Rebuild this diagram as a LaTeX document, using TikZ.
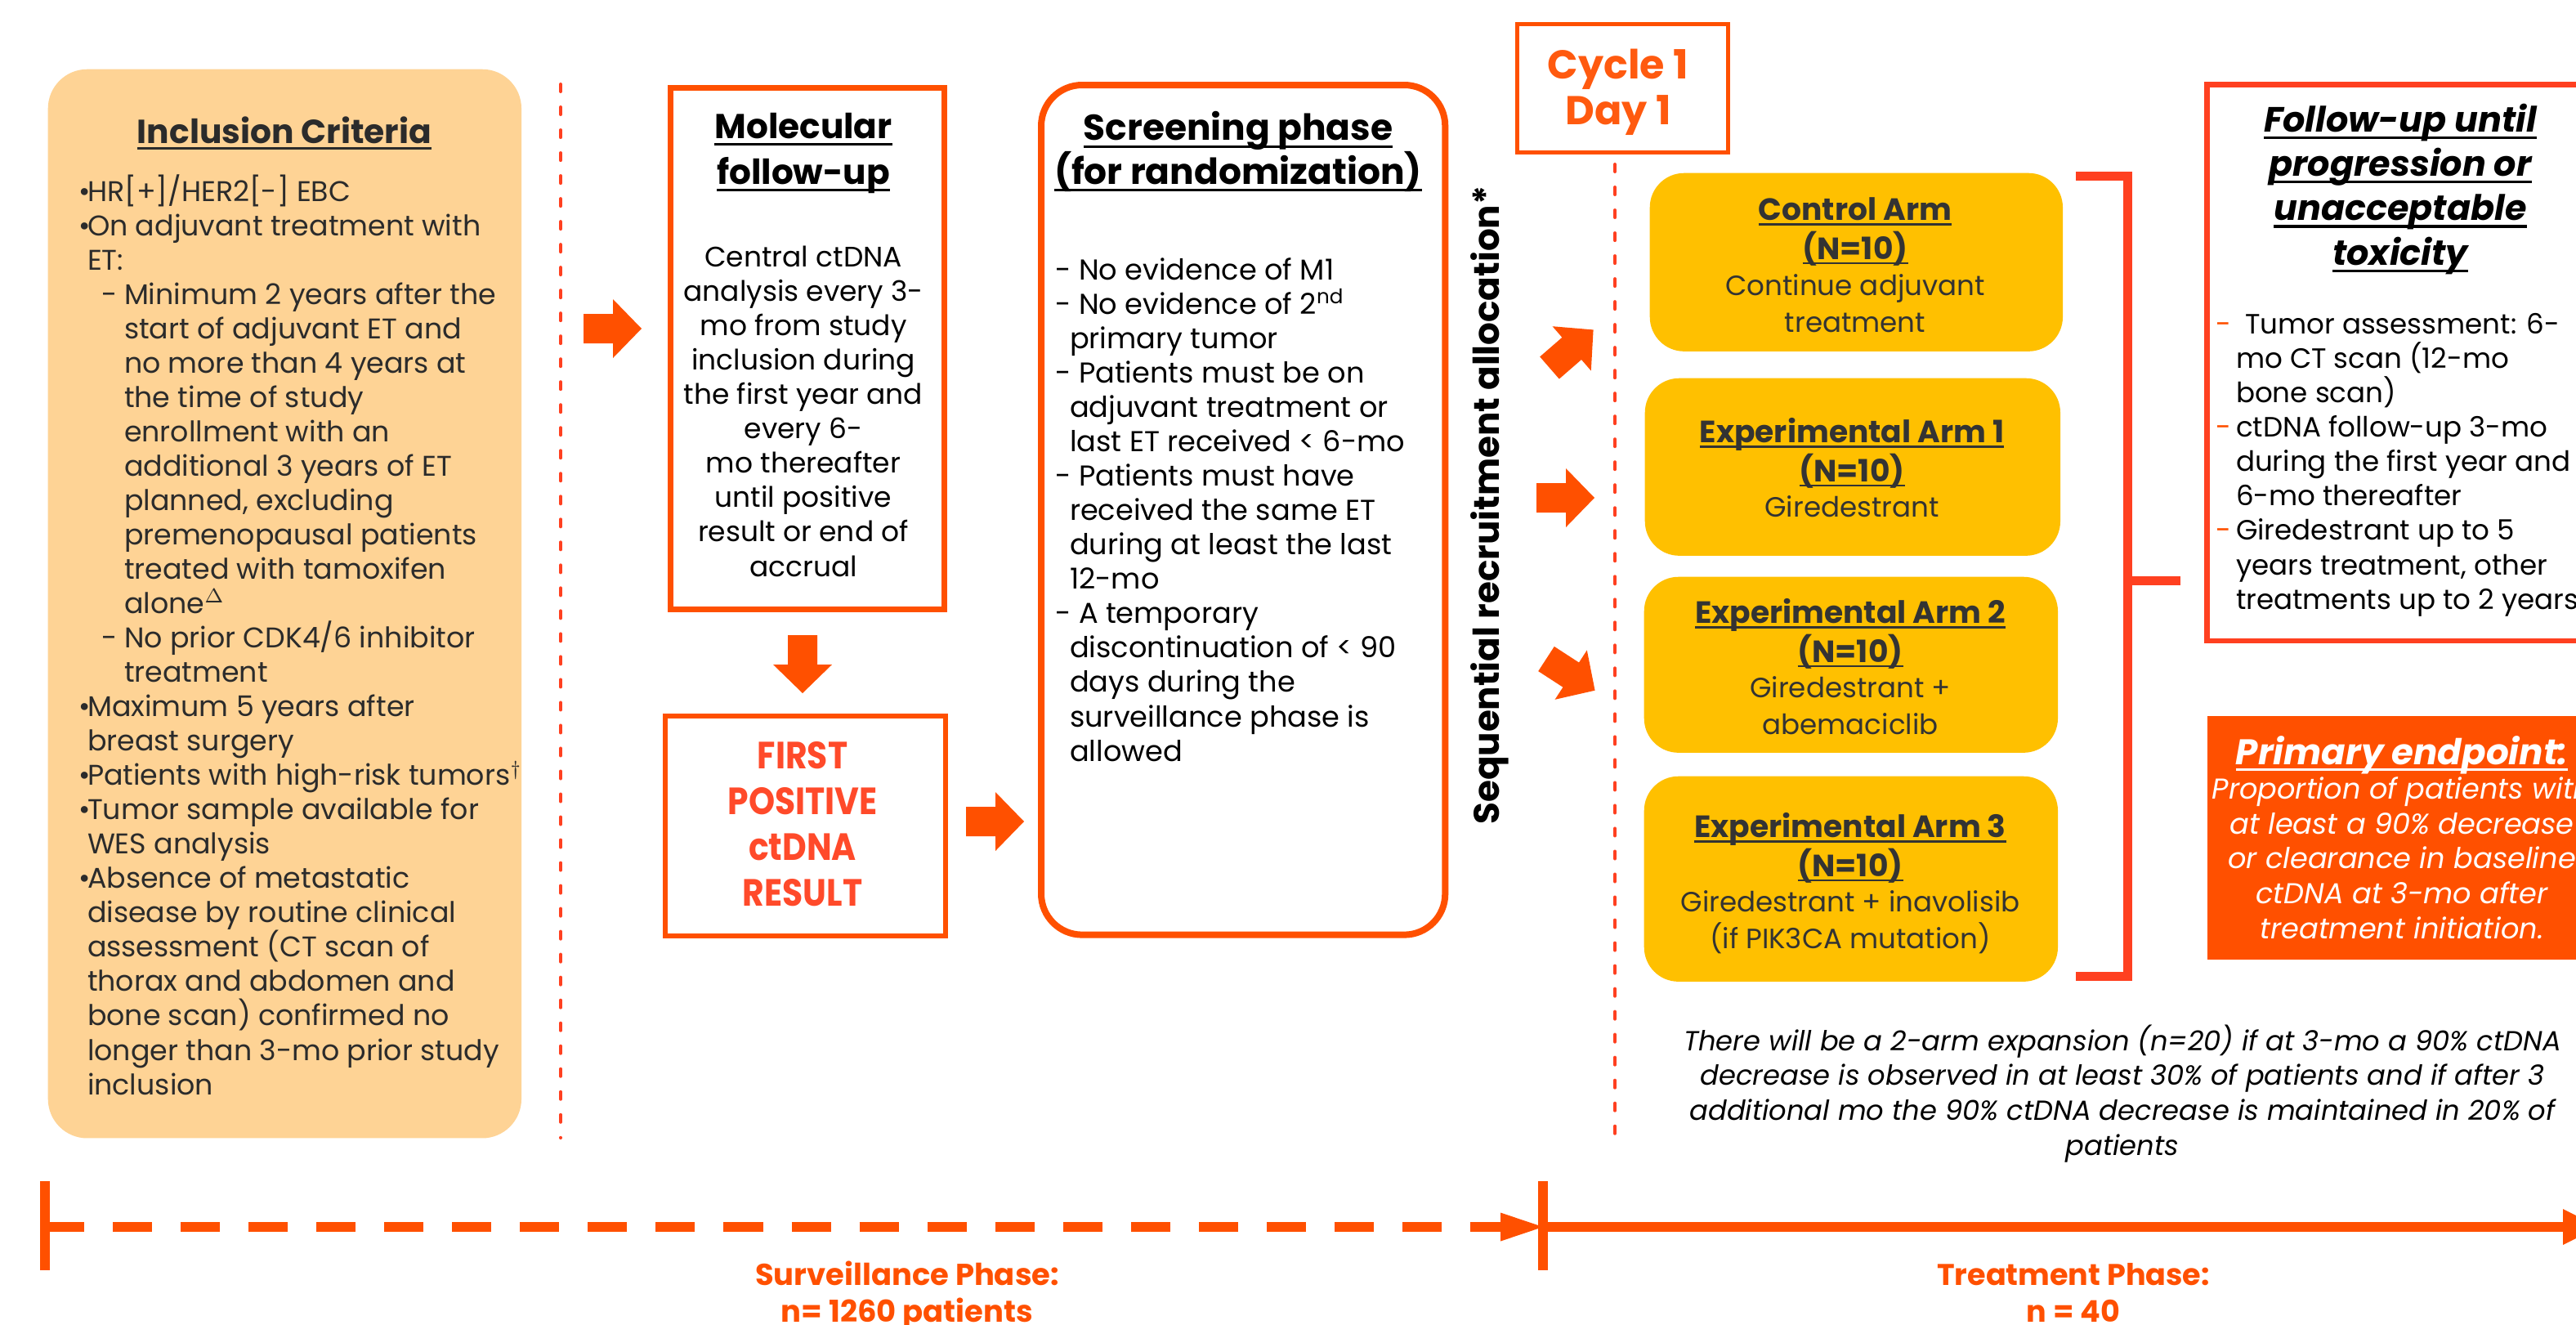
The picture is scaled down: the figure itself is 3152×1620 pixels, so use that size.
\documentclass[tikz,border=0pt]{standalone}
\usepackage{fontspec}
\setmainfont{Poppins}
\newfontfamily\narrowbold[FakeStretch=0.88]{Poppins}
\usetikzlibrary{calc}

\definecolor{orng}{HTML}{FF5000}
\definecolor{redor}{HTML}{FF4020}
\definecolor{peach}{HTML}{FED395}
\definecolor{army}{HTML}{FFC000}
\definecolor{ink}{HTML}{2B2B2B}
\definecolor{armink}{HTML}{333333}
\definecolor{firsttxt}{HTML}{FF4A2A}
\definecolor{cyctxt}{HTML}{FF5A0F}

% underline helper: #1 = offset below baseline, #2 = rule thickness
\newcommand{\ulx}[3]{\setbox0=\hbox{#3}\rlap{\rule[#1]{\wd0}{#2}}\box0}
\newcommand{\ulA}[1]{\ulx{-2.3pt}{0.85pt}{#1}}
\newcommand{\ulB}[1]{\ulx{-2.6pt}{1pt}{#1}}
\newcommand{\ulC}[1]{\ulx{-1.6pt}{0.6pt}{#1}}

% list prefixes
\newcommand{\ibul}{\makebox[0.11cm][l]{\textbullet}}
\newcommand{\icont}{\hspace*{0.11cm}}
\newcommand{\isub}{\hspace*{0.28cm}\makebox[0.28cm][l]{-}}
\newcommand{\isubc}{\hspace*{0.56cm}}
\newcommand{\sdash}{\makebox[0.29cm][l]{-}}
\newcommand{\scont}{\hspace*{0.18cm}}
\newcommand{\fdash}{\makebox[0.25cm][l]{\textcolor{orng}{-}}}
\newcommand{\fcont}{\hspace*{0.25cm}}

% block arrow: tail centre, rotation
\newcommand{\barrow}[2]{\fill[orng, shift={(#1)}, rotate=#2] (0,-18) -- (36,-18) -- (36,-36) -- (71,0) -- (36,36) -- (36,18) -- (0,18) -- cycle;}

% multi-line text nodes are placed by the baseline of their last line
\tikzset{
  txt/.style={inner sep=0pt, outer sep=0pt},
  obox/.style={draw=orng, line width=0.07cm, inner sep=0pt, anchor=north west},
  armbox/.style={fill=army, rounded corners=0.42cm, inner sep=0pt, anchor=north west, minimum width=5.06cm},
  reddash/.style={draw=redor, line width=0.04cm, line cap=round, dash pattern=on 0.09cm off 0.19cm},
  tline/.style={draw=orng, line width=0.12cm},
  armtitle/.style={txt, anchor=base, align=center, text=armink, font=\fontsize{10.7}{13.4}\selectfont\bfseries},
  armbody/.style={txt, anchor=base, align=center, text=armink, font=\fontsize{9.7}{12.6}\selectfont},
}

\begin{document}
\begin{tikzpicture}[x=0.01cm,y=-0.01cm]
\fill[white] (0,0) rectangle (3152,1620);
\useasboundingbox (0,0) rectangle (3152,1620);

% ---------- inclusion criteria ----------
\node[fill=peach, rounded corners=0.48cm, inner sep=0pt, anchor=north west,
      minimum width=5.79cm, minimum height=13.07cm] (incl) at (58,84) {};
\node[txt, anchor=base, text=ink, font=\fontsize{11.6}{14}\selectfont\bfseries] (incltitle) at (348,175) {\ulA{Inclusion Criteria}};
\node[txt, anchor=base west, align=left, text=ink, font=\fontsize{9.9}{11.95}\selectfont] (incllist) at (96,1339) {%
\ibul HR[+]/HER2[-] EBC\\
\ibul On adjuvant treatment with\\
\icont ET:\\
\isub Minimum 2 years after the\\
\isubc start of adjuvant ET and\\
\isubc no more than 4 years at\\
\isubc the time of study\\
\isubc enrollment with an\\
\isubc additional 3 years of ET\\
\isubc planned, excluding\\
\isubc premenopausal patients\\
\isubc treated with tamoxifen\\
\isubc alone$^{\Delta}$\\
\isub No prior CDK4/6 inhibitor\\
\isubc treatment\\
\ibul Maximum 5 years after\\
\icont breast surgery\\
\ibul Patients with high-risk tumors$^{\dagger}$\\
\ibul Tumor sample available for\\
\icont WES analysis\\
\ibul Absence of metastatic\\
\icont disease by routine clinical\\
\icont assessment (CT scan of\\
\icont thorax and abdomen and\\
\icont bone scan) confirmed no\\
\icont longer than 3-mo prior study\\
\icont inclusion};

% ---------- molecular follow-up ----------
\node[obox, minimum width=3.35cm, minimum height=6.38cm] (mol) at (816.5,103.5) {};
\node[txt, anchor=base, align=center, font=\fontsize{12}{15.9}\selectfont\bfseries] (moltitle) at (983,225) {\ulB{Molecular}\\\ulB{follow-up}};
\node[txt, anchor=base, align=center, font=\fontsize{9.8}{11.95}\selectfont] (molbody) at (983,705) {%
Central ctDNA\\analysis every 3-\\mo from study\\inclusion during\\the first year and\\every 6-\\mo thereafter\\until positive\\result or end of\\accrual};

% ---------- first positive result ----------
\node[obox, line width=0.06cm, minimum width=3.43cm, minimum height=2.69cm] (first) at (811,873) {};
\node[txt, anchor=base, align=center, text=firsttxt, font=\narrowbold\fontsize{13.2}{15.9}\selectfont\bfseries] (firsttext) at (982,1108) {FIRST\\POSITIVE\\ctDNA\\RESULT};

% ---------- screening phase ----------
\node[obox, line width=0.08cm, rounded corners=0.5cm, minimum width=4.94cm, minimum height=10.39cm] (scr) at (1270,100) {};
\node[txt, anchor=base, align=center, font=\fontsize{12.5}{15.1}\selectfont\bfseries] (scrtitle) at (1515,225) {\ulB{Screening phase}\\\ulB{(for randomization)}};
\node[txt, anchor=base west, align=left, font=\fontsize{10}{11.95}\selectfont] (scrbody) at (1291,931) {%
\sdash No evidence of M1\\
\sdash No evidence of 2\textsuperscript{nd}\\
\scont primary tumor\\
\sdash Patients must be on\\
\scont adjuvant treatment or\\
\scont last ET received < 6-mo\\
\sdash Patients must have\\
\scont received the same ET\\
\scont during at least the last\\
\scont 12-mo\\
\sdash A temporary\\
\scont discontinuation of < 90\\
\scont days during the\\
\scont surveillance phase is\\
\scont allowed};

% ---------- block arrows ----------
\barrow{714,402}{0}
\barrow{982,777}{-90}
\barrow{1182,1005}{0}
\barrow{1896,450}{41}
\barrow{1880,609}{0}
\barrow{1892,806}{-33}

% ---------- allocation label ----------
\node[txt, rotate=90, font=\fontsize{12.4}{15}\selectfont\bfseries] (seq) at (1823,618) {Sequential recruitment allocation*};

% ---------- cycle 1 day 1 ----------
\node[obox, line width=0.05cm, minimum width=2.58cm, minimum height=1.57cm] (cycle) at (1853.5,26.5) {};
\node[txt, anchor=base, align=center, text=cyctxt, font=\fontsize{14}{15.65}\selectfont\bfseries] (cycletext) at (1980,152) {Cycle 1\\Day 1};

% ---------- treatment arms ----------
\node[armbox, minimum width=5.05cm, minimum height=2.18cm] (armC) at (2018,211) {};
\node[armtitle] (armCt) at (2270,317) {\ulC{Control Arm}\\\ulC{(N=10)}};
\node[armbody] (armCb) at (2270,406) {Continue adjuvant\\treatment};

\node[armbox, minimum width=5.08cm, minimum height=2.17cm] (arm1) at (2012,462) {};
\node[armtitle] (arm1t) at (2266,589) {\ulC{Experimental Arm 1}\\\ulC{(N=10)}};
\node[armbody] (arm1b) at (2266,632) {Giredestrant};

\node[armbox, minimum height=2.15cm] (arm2) at (2011,705) {};
\node[armtitle] (arm2t) at (2264,810) {\ulC{Experimental Arm 2}\\\ulC{(N=10)}};
\node[armbody] (arm2b) at (2264,898) {Giredestrant +\\abemaciclib};

\node[armbox, minimum height=2.51cm] (arm3) at (2011,949) {};
\node[armtitle] (arm3t) at (2264,1072) {\ulC{Experimental Arm 3}\\\ulC{(N=10)}};
\node[armbody] (arm3b) at (2264,1160) {Giredestrant + inavolisib\\(if PIK3CA mutation)};

% ---------- bracket ----------
\coordinate (brT) at (2540,215);
\coordinate (brB) at (2540,1194);
\coordinate (brM) at (2603,710);
\draw[redor, line width=0.11cm, line join=miter] (brT) -- (2603,215) -- (2603,1194) -- (brB);
\draw[redor, line width=0.11cm] (brM) -- (2668,710);

% ---------- follow-up ----------
\node[obox, draw=redor, line width=0.065cm, minimum width=4.8cm, minimum height=6.8cm] (fu) at (2697,100.3) {};
\node[txt, anchor=base, align=center, font=\fontsize{12.2}{15.45}\selectfont\bfseries\itshape] (futitle) at (2937,324) {%
\ulB{Follow-up until}\\\ulB{progression or}\\\ulB{unacceptable}\\\ulB{toxicity}};
\node[txt, anchor=base west, align=left, font=\fontsize{9.7}{11.95}\selectfont] (fubody) at (2711,745) {%
\fdash\hspace{0.11cm}Tumor assessment: 6-\\
\fcont mo CT scan (12-mo\\
\fcont bone scan)\\
\fdash ctDNA follow-up 3-mo\\
\fcont during the first year and\\
\fcont 6-mo thereafter\\
\fdash Giredestrant up to 5\\
\fcont years treatment, other\\
\fcont treatments up to 2 years};

% ---------- primary endpoint ----------
\node[fill=orng, inner sep=0pt, anchor=north west, minimum width=4.8cm, minimum height=2.98cm] (pe) at (2700,875) {};
\node[txt, anchor=base, text=white, font=\fontsize{12.4}{15}\selectfont\bfseries\itshape] (petitle) at (2939,935) {\ulA{Primary endpoint:}};
\node[txt, anchor=base, align=center, text=white, font=\fontsize{10}{12.1}\selectfont\itshape] (pebody) at (2939,1148) {%
Proportion of patients with\\at least a 90\% decrease\\or clearance in baseline\\ctDNA at 3-mo after\\treatment initiation.};

% ---------- expansion note ----------
\node[txt, anchor=base, align=center, font=\fontsize{9.6}{12.1}\selectfont\itshape] (note) at (2597,1413) {%
There will be a 2-arm expansion (n=20) if at 3-mo a 90\% ctDNA\\
decrease is observed in at least 30\% of patients and if after 3\\
additional mo the 90\% ctDNA decrease is maintained in 20\% of\\
patients};

% ---------- phase separators ----------
\draw[reddash] (686,103) -- (686,1392);
\draw[reddash] (1976,201) -- (1976,1392);

% ---------- timeline ----------
\coordinate (t0) at (55,1501);
\coordinate (t1) at (1888,1501);
\coordinate (t2) at (3180,1501);
\draw[tline] (55,1445) -- (55,1554);
\draw[tline] (1888,1445) -- (1888,1554);
\draw[tline, dash pattern=on 0.48cm off 0.35cm] (t0) -- (1838,1501);
\fill[orng] (1836,1483.5) -- (t1) -- (1836,1518.5) -- cycle;
\draw[tline] (t1) -- (3138,1501);
\fill[orng] (3136,1479) -- (t2) -- (3136,1523) -- cycle;

\node[txt, anchor=base, align=center, text=orng, font=\fontsize{10.5}{12.8}\selectfont\bfseries] (survlab) at (1110,1617) {Surveillance Phase:\\n= 1260 patients};
\node[txt, anchor=base, align=center, text=orng, font=\fontsize{10.4}{12.8}\selectfont\bfseries] (treatlab) at (2537,1617) {Treatment Phase:\\n = 40};
\end{tikzpicture}
\end{document}
